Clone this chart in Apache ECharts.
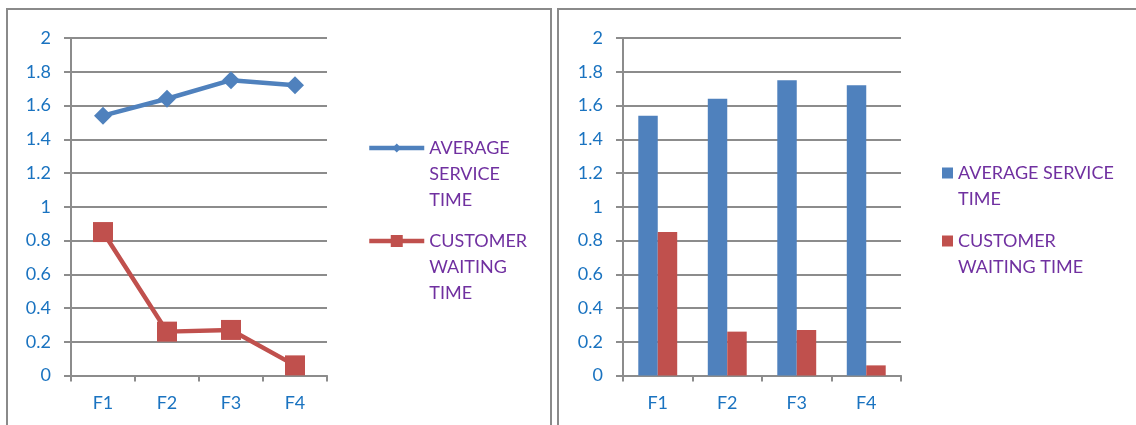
<!DOCTYPE html>
<html>
<head>
<meta charset="utf-8">
<script src="https://cdn.jsdelivr.net/npm/echarts@6/dist/echarts.min.js"></script>
<style>
  html, body { margin: 0; padding: 0; background: #fff; width: 1136px; height: 425px; overflow: hidden; position: relative; }
  .frame { position: absolute; box-sizing: border-box; border: 2px solid #8a8a8a; background: transparent; }
  #leftFrame { left: 6px; top: 8px; width: 546px; height: 440px; }
  #rightFrame { left: 557px; top: 8px; width: 600px; height: 440px; }
  #chart { position: absolute; left: 0; top: 0; width: 1136px; height: 425px; }
</style>
</head>
<body>
<div class="frame" id="leftFrame"></div>
<div class="frame" id="rightFrame"></div>
<div id="chart"></div>
<script>
// Facility labels along the x axis
const categories = ['F1', 'F2', 'F3', 'F4'];
// Average service time per facility
const averageServiceTime = [1.54, 1.64, 1.75, 1.72];
// Customer waiting time per facility
const customerWaitingTime = [0.85, 0.26, 0.27, 0.06];

const SERVICE = 'AVERAGE SERVICE TIME';
const WAITING = 'CUSTOMER WAITING TIME';

const BLUE = '#4f81bd';
const RED = '#c0504d';
const GRID_GRAY = '#8c8c8c';
const LABEL_BLUE = '#1a73c0';
const PURPLE = '#7030a0';
const FONT = 'Lato, "Open Sans", sans-serif';

// Wrapped legend labels for the narrow (line chart) and wide (bar chart) panels
const leftNames = {};
leftNames[SERVICE] = ['AVERAGE', 'SERVICE', 'TIME'];
leftNames[WAITING] = ['CUSTOMER', 'WAITING', 'TIME'];
const rightNames = {};
rightNames[SERVICE] = ['AVERAGE SERVICE', 'TIME'];
rightNames[WAITING] = ['CUSTOMER', 'WAITING TIME'];

function xAxisFor(gridIndex) {
  return {
    type: 'category', gridIndex: gridIndex, data: categories, boundaryGap: true,
    axisLine: { lineStyle: { color: GRID_GRAY, width: 2 } },
    axisTick: { show: true, length: 6, lineStyle: { color: GRID_GRAY, width: 2 } },
    axisLabel: { color: LABEL_BLUE, fontSize: 18, fontFamily: FONT, margin: 19 }
  };
}
function yAxisFor(gridIndex) {
  return {
    type: 'value', gridIndex: gridIndex, min: 0, max: 2, interval: 0.2,
    axisLine: { show: true, lineStyle: { color: GRID_GRAY, width: 2 } },
    axisTick: { show: true, length: 7, lineStyle: { color: GRID_GRAY, width: 2 } },
    splitLine: { show: true, lineStyle: { color: GRID_GRAY, width: 2 } },
    axisLabel: { color: LABEL_BLUE, fontSize: 18, fontFamily: FONT, margin: 20 }
  };
}

// One legend entry; blank lines above the label keep the icon level with its first line
function legendEntry(name, names, x, firstLineY, extra) {
  const lh = 26;
  const lines = names[name];
  const blanks = lines.length - 1;
  return Object.assign({
    orient: 'vertical', left: x, top: firstLineY - lh / 2 - blanks * lh, padding: 0,
    data: [name], selectedMode: false,
    formatter: function (n) { return '\n'.repeat(blanks) + names[n].join('\n'); },
    textStyle: { color: PURPLE, fontSize: 18, fontFamily: FONT, lineHeight: lh }
  }, extra);
}

const chart = echarts.init(document.getElementById('chart'), null, { renderer: 'canvas' });
chart.setOption({
  animation: false,
  backgroundColor: 'transparent',
  grid: [
    { left: 71, top: 38, width: 256, height: 337.5, containLabel: false },
    { left: 623, top: 38, width: 278, height: 337.5, containLabel: false }
  ],
  xAxis: [xAxisFor(0), xAxisFor(1)],
  yAxis: [yAxisFor(0), yAxisFor(1)],
  legend: [
    legendEntry(SERVICE, leftNames, 367, 148, { itemWidth: 55, itemHeight: 11, lineStyle: { width: 4.5 } }),
    legendEntry(WAITING, leftNames, 367, 241, { itemWidth: 55, itemHeight: 15, lineStyle: { width: 4.5 } }),
    legendEntry(SERVICE, rightNames, 942, 173, { itemWidth: 11, itemHeight: 11, icon: 'rect', itemStyle: { color: BLUE, borderWidth: 0 } }),
    legendEntry(WAITING, rightNames, 942, 241, { itemWidth: 11, itemHeight: 11, icon: 'rect', itemStyle: { color: RED, borderWidth: 0 } })
  ],
  series: [
    {
      name: SERVICE, type: 'line', xAxisIndex: 0, yAxisIndex: 0, data: averageServiceTime,
      symbol: 'diamond', symbolSize: 18, showAllSymbol: true,
      lineStyle: { color: BLUE, width: 4.5 }, itemStyle: { color: BLUE, borderWidth: 0 }
    },
    {
      name: WAITING, type: 'line', xAxisIndex: 0, yAxisIndex: 0, data: customerWaitingTime,
      symbol: 'rect', symbolSize: 20, showAllSymbol: true,
      lineStyle: { color: RED, width: 4.5 }, itemStyle: { color: RED, borderWidth: 0 }
    },
    {
      name: SERVICE, type: 'bar', xAxisIndex: 1, yAxisIndex: 1, data: averageServiceTime,
      barGap: '0%', barCategoryGap: '44%', itemStyle: { color: BLUE }
    },
    {
      name: WAITING, type: 'bar', xAxisIndex: 1, yAxisIndex: 1, data: customerWaitingTime,
      barGap: '0%', barCategoryGap: '44%', itemStyle: { color: RED }
    }
  ]
});
</script>
</body>
</html>
